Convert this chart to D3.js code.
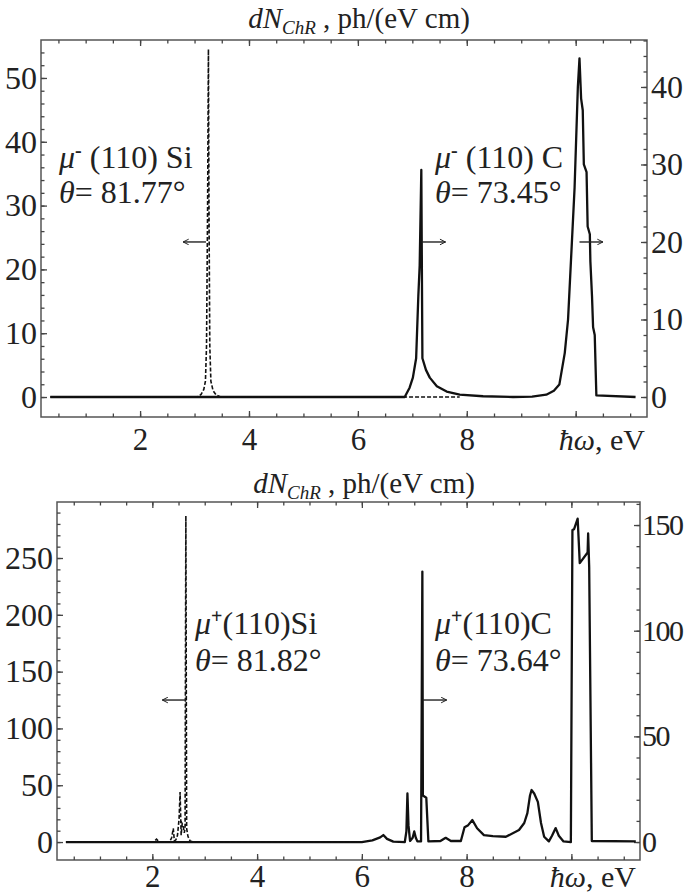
<!DOCTYPE html>
<html>
<head>
<meta charset="utf-8">
<script src="https://cdn.jsdelivr.net/npm/d3@7"></script>
<style>
  body { margin: 0; background: #fff; }
  text { font-family: "Liberation Serif", "DejaVu Serif", serif; fill: #222; }
</style>
</head>
<body>
<div id="chart"></div>
<script>
// photon energy (eV) vs dN/d(hw); Si curves read on left axis, C curves on right axis

// upper panel, mu- (110)
var topSi = [[0.35,0],[3.05,0],[3.12,0.4],[3.17,1.2],[3.2,2.5],[3.22,8],[3.24,30],[3.255,54.5],
  [3.265,30],[3.28,8],[3.3,2.5],[3.34,1],[3.4,0.3],[3.48,0],[7.87,0]];
var topC = [[0.35,0],[6.86,0],[6.95,1.2],[7.01,2.5],[7.07,5],[7.11,13],[7.135,17],[7.165,29.3],
  [7.185,5],[7.25,3.5],[7.32,2.5],[7.45,1.4],[7.63,0.7],[7.87,0.3],[8.3,0.1],[8.85,0],[9.2,0.05],
  [9.46,0.3],[9.6,0.8],[9.7,1.6],[9.8,5.7],[9.86,10],[9.92,18.5],[9.98,27],[10.04,40],[10.07,43.7],
  [10.1,38.5],[10.13,37],[10.15,30],[10.2,29],[10.22,22],[10.26,21],[10.27,17.5],[10.3,13],
  [10.32,9],[10.35,8],[10.38,0.2],[11.1,0]];

// lower panel, mu+ (110)
var botSi = [[0.35,0],[2.02,0],[2.08,2.5],[2.13,0],[2.33,0],[2.37,4],[2.4,12],[2.42,1],[2.45,2],
  [2.48,6],[2.51,20],[2.53,44],[2.55,6],[2.57,16],[2.59,14],[2.61,8],[2.625,12],[2.64,287],
  [2.655,12],[2.68,5],[2.72,1],[2.78,0],[5.9,0]];
var botC = [[0.35,0],[6.0,0],[6.2,0.8],[6.35,2.2],[6.41,3.3],[6.48,1.5],[6.6,0.2],[6.82,0],
  [6.85,5],[6.87,23],[6.89,8],[6.92,0.5],[6.97,2],[7.0,5],[7.03,2],[7.06,0.3],[7.13,0.3],
  [7.155,128],[7.165,22],[7.23,21],[7.27,0.3],[7.5,0.5],[7.6,2],[7.7,0.5],[7.89,0.5],[7.96,7],
  [8.03,8],[8.11,10.4],[8.2,6.5],[8.33,3.3],[8.5,2.8],[8.75,2.5],[9.0,5.7],[9.1,9],[9.16,13.7],
  [9.21,22],[9.24,24.6],[9.29,23],[9.36,19],[9.42,9],[9.48,2.5],[9.57,0.3],[9.63,3],[9.7,6.6],
  [9.76,3],[9.85,0.3],[9.99,0],[10.02,147.6],[10.05,148],[10.12,153],[10.16,132],[10.31,137],
  [10.32,146],[10.34,130],[10.39,0.5],[11.23,0.3]];

var xTicks = [2, 4, 6, 8, 10];
var topLeftTicks = [0, 10, 20, 30, 40, 50];
var topRightTicks = [0, 10, 20, 30, 40];
var botLeftTicks = [0, 50, 100, 150, 200, 250];
var botRightTicks = [0, 50, 100, 150];

var W = 685, H = 896;
var FONT = "'Liberation Serif', 'DejaVu Serif', serif";
var svg = d3.select("#chart").append("svg")
  .attr("width", W)
  .attr("height", H);

// small open arrow head
svg.append("defs").append("marker")
  .attr("id", "arr")
  .attr("viewBox", "0 -5 10 10")
  .attr("refX", 9).attr("refY", 0)
  .attr("markerWidth", 7).attr("markerHeight", 7)
  .attr("markerUnits", "userSpaceOnUse")
  .attr("orient", "auto")
  .append("path")
    .attr("d", "M1,-4L9,0L1,4")
    .attr("fill", "none")
    .attr("stroke", "#222")
    .attr("stroke-width", 1.4);

function drawPanel(p) {
  var x = d3.scaleLinear().domain([0.18, 11.31]).range([p.left, p.right]);
  var yL = d3.scaleLinear().domain(p.leftDomain).range([p.bottom, p.top]);
  var yR = d3.scaleLinear().domain(p.rightDomain).range([p.bottom, p.top]);
  var g = svg.append("g");

  // title
  var t = g.append("text")
    .attr("x", p.titleX).attr("y", p.titleY)
    .attr("text-anchor", "middle")
    .style("font-size", "29px");
  t.append("tspan").style("font-style", "italic").text("dN");
  t.append("tspan").style("font-style", "italic").style("font-size", "19px").attr("dy", 6).text("ChR");
  t.append("tspan").attr("dy", -6).text(" , ph/(eV cm)");

  // frame
  g.append("rect")
    .attr("x", p.left).attr("y", p.top)
    .attr("width", p.right - p.left).attr("height", p.bottom - p.top)
    .attr("fill", "none").attr("stroke", "#555").attr("stroke-width", 1.5);

  function styleAxis(sel, fs, ls) {
    sel.attr("font-family", FONT);
    sel.select(".domain").remove();
    sel.selectAll("line").attr("stroke", "#444").attr("stroke-width", 1.3);
    sel.selectAll("text").style("font-size", fs).style("font-family", FONT)
      .style("letter-spacing", ls || "0px").attr("fill", "#222");
  }

  // x axes (bottom with labels, top with ticks only)
  var minorX = d3.range(0.5, 11.01, 0.5);
  g.append("g").attr("transform", "translate(0," + p.bottom + ")")
    .call(d3.axisBottom(x).tickValues(minorX).tickSize(-3.5).tickFormat(""))
    .call(styleAxis, "31px");
  g.append("g").attr("transform", "translate(0," + p.bottom + ")")
    .call(d3.axisBottom(x).tickValues(xTicks).tickSize(-6).tickPadding(p.xPad)
      .tickFormat(function(d) { return d === 10 ? "" : d; }))
    .call(styleAxis, "31px");
  g.append("g").attr("transform", "translate(0," + p.top + ")")
    .call(d3.axisTop(x).tickValues(minorX).tickSize(-3.5).tickFormat(""))
    .call(styleAxis, "31px");
  g.append("g").attr("transform", "translate(0," + p.top + ")")
    .call(d3.axisTop(x).tickValues(xTicks).tickSize(-6).tickFormat(""))
    .call(styleAxis, "31px");

  // left axis
  g.append("g").attr("transform", "translate(" + p.left + ",0)")
    .call(d3.axisLeft(yL).tickValues(d3.range(p.leftMinor[0], p.leftDomain[1], p.leftMinor[1]))
      .tickSize(-3.5).tickFormat(""))
    .call(styleAxis, "32px");
  g.append("g").attr("transform", "translate(" + p.left + ",0)")
    .call(d3.axisLeft(yL).tickValues(p.leftTicks).tickSize(-6).tickPadding(4))
    .call(styleAxis, "32px");

  // right axis
  g.append("g").attr("transform", "translate(" + p.right + ",0)")
    .call(d3.axisRight(yR).tickValues(d3.range(p.rightMinor[0], p.rightDomain[1], p.rightMinor[1]))
      .tickSize(-3.5).tickFormat(""))
    .call(styleAxis, "32px");
  g.append("g").attr("transform", "translate(" + p.right + ",0)")
    .call(d3.axisRight(yR).tickValues(p.rightTicks).tickSize(-6).tickPadding(p.rightPad))
    .call(styleAxis, p.rightFont, p.rightSpacing);

  // x axis name
  var xl = g.append("text")
    .attr("x", p.xNameX).attr("y", p.bottom + p.xNameDy)
    .attr("text-anchor", "end")
    .style("font-size", "30px");
  xl.append("tspan").style("font-style", "italic").text("ħω");
  xl.append("tspan").text(", eV");

  // curves
  var lineL = d3.line().x(function(d) { return x(d[0]); }).y(function(d) { return yL(d[1]); });
  var lineR = d3.line().x(function(d) { return x(d[0]); }).y(function(d) { return yR(d[1]); });

  g.append("path").datum(p.c)
    .attr("d", lineR)
    .attr("fill", "none").attr("stroke", "#111").attr("stroke-width", 2.3)
    .attr("stroke-linejoin", "round");
  g.append("path").datum(p.si)
    .attr("d", lineL)
    .attr("fill", "none").attr("stroke", "#111").attr("stroke-width", 1.6)
    .attr("stroke-dasharray", "4,2");

  // arrows showing which axis a curve belongs to
  p.arrows.forEach(function(a) {
    var y = a.axis === "L" ? yL(a.y) : yR(a.y);
    g.append("line")
      .attr("x1", x(a.from)).attr("x2", x(a.to))
      .attr("y1", y).attr("y2", y)
      .attr("stroke", "#222").attr("stroke-width", 1.4)
      .attr("marker-end", "url(#arr)");
  });

  // curve labels
  p.labels.forEach(function(l) {
    var t1 = g.append("text").attr("x", l.x).attr("y", l.y1).style("font-size", "32px");
    t1.append("tspan").style("font-style", "italic").text("μ");
    t1.append("tspan").style("font-size", "20px").style("font-weight", "bold")
      .attr("dy", -11).text(l.sign);
    t1.append("tspan").attr("dy", 11).text(l.rest);
    var t2 = g.append("text").attr("x", l.x).attr("y", l.y2).style("font-size", "32px");
    t2.append("tspan").style("font-style", "italic").text("θ");
    t2.append("tspan").text("= " + l.angle + "°");
  });
}

drawPanel({
  left: 41, right: 647, top: 40, bottom: 417,
  leftDomain: [-3.13, 55.95], rightDomain: [-2.58, 46.06],
  leftTicks: topLeftTicks, rightTicks: topRightTicks,
  leftMinor: [0, 2], rightMinor: [0, 2],
  rightPad: 4, rightFont: "32px", rightSpacing: "0px",
  titleX: 359, titleY: 28, xNameX: 645, xNameDy: 33, xPad: 11,
  si: topSi, c: topC,
  arrows: [
    {axis: "L", from: 3.21, to: 2.79, y: 24.3},
    {axis: "R", from: 7.17, to: 7.61, y: 20},
    {axis: "R", from: 10.07, to: 10.5, y: 20}
  ],
  labels: [
    {x: 59, y1: 168, y2: 203, sign: "-", rest: " (110) Si", angle: "81.77"},
    {x: 435, y1: 168, y2: 203, sign: "-", rest: " (110) C", angle: "73.45"}
  ]
});

drawPanel({
  left: 57, right: 640, top: 502, bottom: 860,
  leftDomain: [-15.8, 299.3], rightDomain: [-8.5, 160.9],
  leftTicks: botLeftTicks, rightTicks: botRightTicks,
  leftMinor: [0, 10], rightMinor: [0, 10],
  rightPad: 2, rightFont: "30px", rightSpacing: "-1.5px",
  titleX: 364, titleY: 493, xNameX: 636, xNameDy: 27, xPad: 5,
  si: botSi, c: botC,
  arrows: [
    {axis: "L", from: 2.65, to: 2.19, y: 125},
    {axis: "R", from: 7.16, to: 7.62, y: 67.2}
  ],
  labels: [
    {x: 195, y1: 634, y2: 671, sign: "+", rest: "(110)Si", angle: "81.82"},
    {x: 435, y1: 634, y2: 671, sign: "+", rest: "(110)C", angle: "73.64"}
  ]
});
</script>
</body>
</html>
